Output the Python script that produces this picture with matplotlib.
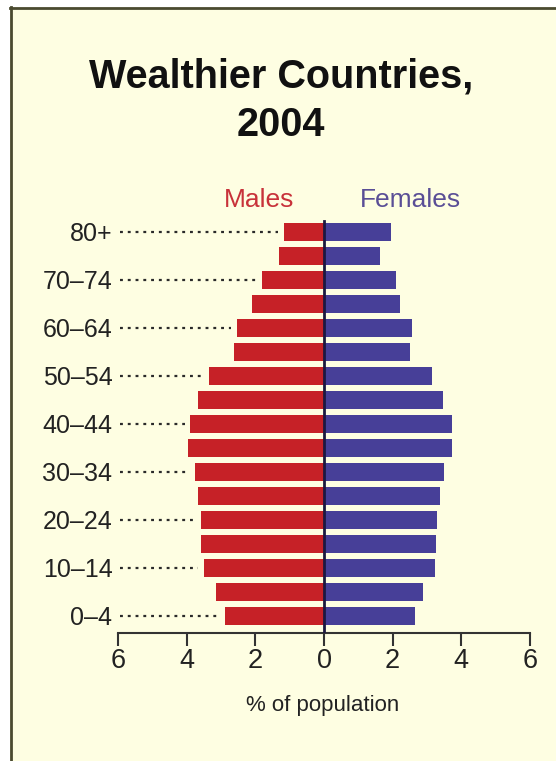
import numpy as np
import matplotlib.pyplot as plt
from matplotlib.patches import Rectangle
from matplotlib.lines import Line2D

# age groups, bottom to top
age_groups = ["0–4", "5–9", "10–14", "15–19", "20–24", "25–29", "30–34", "35–39",
              "40–44", "45–49", "50–54", "55–59", "60–64", "65–69", "70–74", "75–79", "80+"]
# % of population
males = [2.88, 3.15, 3.50, 3.57, 3.59, 3.68, 3.76, 3.97,
         3.89, 3.68, 3.34, 2.61, 2.53, 2.10, 1.81, 1.31, 1.17]
females = [2.65, 2.88, 3.22, 3.27, 3.29, 3.38, 3.50, 3.72,
           3.72, 3.46, 3.14, 2.51, 2.56, 2.22, 2.10, 1.63, 1.94]
x_ticks = [-6, -4, -2, 0, 2, 4, 6]

BG = "#FEFEE2"
RED = "#C62127"
BLUE = "#473F98"
FONT = ["Liberation Sans", "DejaVu Sans"]

W, H = 556, 761
fig = plt.figure(figsize=(W / 100, H / 100), dpi=100, facecolor="white")

# cream panel with dark border on left/top
fig.patches.append(Rectangle((10 / W, 0), 1 - 10 / W, 1 - 7 / H, transform=fig.transFigure,
                             facecolor=BG, edgecolor="none", zorder=-5))
fig.lines.append(Line2D([10.5 / W, 10.5 / W], [0, 1 - 7 / H], transform=fig.transFigure,
                        color="#4a4a30", lw=2, zorder=-4))
fig.lines.append(Line2D([10 / W, 1], [1 - 8 / H, 1 - 8 / H], transform=fig.transFigure,
                        color="#4a4a30", lw=2, zorder=-4))

ax_bottom = (H - 633) / H
ax_top = (H - 210) / H
ax = fig.add_axes([118 / W, ax_bottom, 412 / W, ax_top - ax_bottom])
ax.set_facecolor("none")
ax.set_zorder(2)

y = np.arange(len(age_groups))
ax.barh(y, [-m for m in males], height=0.75, color=RED, zorder=2)
ax.barh(y, females, height=0.75, color=BLUE, zorder=2)

ax.set_xlim(-6, 6)
ax.set_ylim(-0.708, 16.9)

# center line
ax.plot([0, 0], [-0.708, 16.45], color="#1c1840", lw=2, zorder=3)

# dotted leaders for labelled rows
for i in range(0, len(age_groups), 2):
    ax.plot([-5.95, -(males[i] + 0.17)], [i, i], color="#2a2a2a", lw=1.6,
            linestyle=(0, (1.3, 2.2)), zorder=1)

ax.set_yticks(y[::2])
ax.set_yticklabels(age_groups[::2], family=FONT, fontsize=18, color="#222222")
ax.tick_params(axis="y", length=0, pad=4)

ax.set_xticks(x_ticks)
ax.set_xticklabels([str(abs(v)) for v in x_ticks], family=FONT, fontsize=19.5, color="#222222")
ax.tick_params(axis="x", direction="out", length=9, width=1.5, color="#333333", pad=2)

for s in ["top", "right", "left"]:
    ax.spines[s].set_visible(False)
ax.spines["bottom"].set_color("#333333")
ax.spines["bottom"].set_linewidth(1.5)

fig.text(323 / W, 1 - 706 / H, "% of population", family=FONT, fontsize=16,
         color="#222222", ha="center", va="center")

fig.text(281 / W, 1 - 76 / H, "Wealthier Countries,", family=FONT,
         fontsize=28.5, fontweight="bold", ha="center", va="center", color="#111111")
fig.text(281 / W, 1 - 125 / H, "2004", family=FONT,
         fontsize=28.5, fontweight="bold", ha="center", va="center", color="#111111")

fig.text(259 / W, 1 - 200 / H, "Males", family=FONT, fontsize=19, color="#C8323A",
         ha="center", va="center")
fig.text(410 / W, 1 - 200 / H, "Females", family=FONT, fontsize=19, color="#5A4E96",
         ha="center", va="center")

fig.savefig("out.png", dpi=100, facecolor=fig.get_facecolor())
